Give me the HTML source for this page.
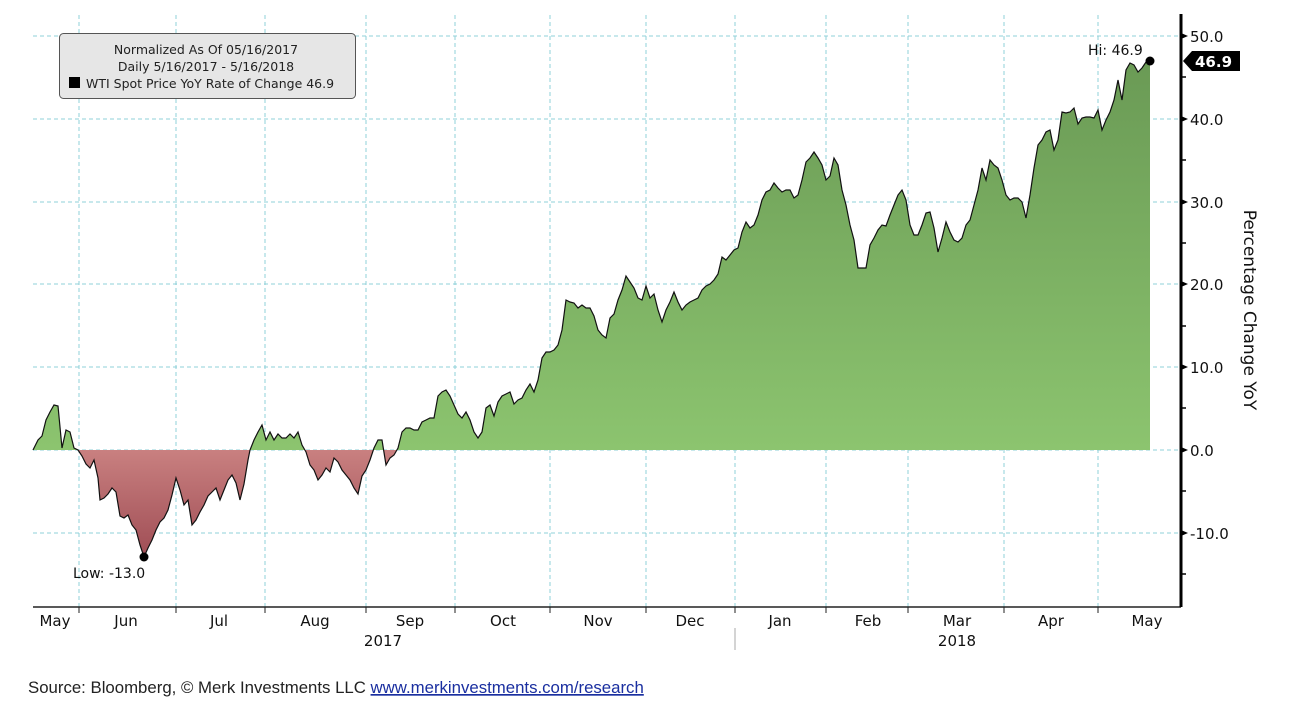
<!DOCTYPE html>
<html><head><meta charset="utf-8"><style>
body{margin:0;background:#fff;width:1290px;height:708px;overflow:hidden;font-family:"DejaVu Sans","Liberation Sans",sans-serif}
</style></head><body>
<svg width="1290" height="708" xmlns="http://www.w3.org/2000/svg" style="position:absolute;left:0;top:0">
<defs>
<linearGradient id="g" gradientUnits="userSpaceOnUse" x1="0" y1="60" x2="0" y2="450"><stop offset="0" stop-color="#6a9a55"/><stop offset="1" stop-color="#8cc46f"/></linearGradient>
<linearGradient id="r" gradientUnits="userSpaceOnUse" x1="0" y1="450" x2="0" y2="560"><stop offset="0" stop-color="#c98080"/><stop offset="1" stop-color="#9e4c54"/></linearGradient>
<clipPath id="up"><rect x="0" y="0" width="1290" height="450"/></clipPath>
<clipPath id="dn"><rect x="0" y="450" width="1290" height="200"/></clipPath>
<path id="p" d="M33,450 L38,440 42,436 46,420 50,412 54,405 58,406 62,448 66,430 70,432 74,448 78,450 82,456 86,464 90,468 94,460 98,478 100,500 104,498 108,494 112,488 116,492 120,516 124,518 128,515 132,525 136,530 140,545 144,557 148,548 152,540 156,530 160,522 164,518 168,510 172,495 176,478 180,490 184,505 188,500 192,525 196,520 200,512 204,505 208,496 212,492 216,488 220,500 224,490 228,480 232,475 236,483 240,500 244,484 248,460 250,450 254,440 258,432 262,425 266,440 270,432 274,440 278,434 282,438 286,438 290,434 294,438 298,432 302,445 306,452 310,465 314,470 318,480 322,475 326,468 330,472 334,458 338,462 342,470 346,475 350,480 354,488 358,494 362,476 366,470 370,460 374,448 378,440 382,440 386,465 390,458 394,455 398,448 402,432 406,428 410,428 414,430 418,430 422,422 426,420 430,418 434,418 438,396 442,392 446,390 450,396 454,405 458,414 462,418 466,412 470,420 474,432 478,438 482,432 486,408 490,405 494,416 498,402 502,396 506,394 510,392 514,404 518,400 522,398 526,390 530,384 534,392 538,380 542,358 546,352 550,352 554,350 558,345 562,330 566,300 570,302 574,303 578,308 582,305 586,308 590,308 594,316 598,330 602,335 606,338 610,318 614,314 618,300 622,290 626,276 630,282 634,288 638,298 642,300 646,286 650,298 654,294 658,310 662,322 666,310 670,302 674,292 678,302 682,310 686,305 690,302 694,300 698,298 702,290 706,286 710,284 714,280 718,274 722,257 726,260 730,255 734,250 738,248 742,232 746,222 750,228 754,225 758,215 762,200 766,192 770,190 774,183 778,188 782,192 786,190 790,190 794,198 798,195 802,180 806,162 810,158 814,152 818,158 822,165 826,180 830,176 834,158 838,165 842,190 846,205 850,225 854,240 858,268 862,268 866,268 870,245 874,238 878,230 882,225 886,226 890,215 894,205 898,195 902,190 906,200 910,225 914,235 918,235 922,225 926,213 930,212 934,228 938,252 942,238 946,222 950,232 954,240 958,242 962,238 966,225 970,220 974,205 978,190 982,168 986,180 990,160 994,165 998,168 1002,180 1006,195 1010,200 1014,198 1018,198 1022,202 1026,218 1030,195 1034,168 1038,145 1042,140 1046,132 1050,130 1054,150 1058,140 1062,112 1066,113 1070,112 1074,108 1078,124 1082,118 1086,117 1090,117 1094,118 1098,110 1102,130 1106,120 1110,112 1114,100 1118,80 1122,100 1126,70 1130,63 1134,65 1138,72 1142,68 1146,62 1150,61"/>
<path id="f" d="M33,450 L38,440 42,436 46,420 50,412 54,405 58,406 62,448 66,430 70,432 74,448 78,450 82,456 86,464 90,468 94,460 98,478 100,500 104,498 108,494 112,488 116,492 120,516 124,518 128,515 132,525 136,530 140,545 144,557 148,548 152,540 156,530 160,522 164,518 168,510 172,495 176,478 180,490 184,505 188,500 192,525 196,520 200,512 204,505 208,496 212,492 216,488 220,500 224,490 228,480 232,475 236,483 240,500 244,484 248,460 250,450 254,440 258,432 262,425 266,440 270,432 274,440 278,434 282,438 286,438 290,434 294,438 298,432 302,445 306,452 310,465 314,470 318,480 322,475 326,468 330,472 334,458 338,462 342,470 346,475 350,480 354,488 358,494 362,476 366,470 370,460 374,448 378,440 382,440 386,465 390,458 394,455 398,448 402,432 406,428 410,428 414,430 418,430 422,422 426,420 430,418 434,418 438,396 442,392 446,390 450,396 454,405 458,414 462,418 466,412 470,420 474,432 478,438 482,432 486,408 490,405 494,416 498,402 502,396 506,394 510,392 514,404 518,400 522,398 526,390 530,384 534,392 538,380 542,358 546,352 550,352 554,350 558,345 562,330 566,300 570,302 574,303 578,308 582,305 586,308 590,308 594,316 598,330 602,335 606,338 610,318 614,314 618,300 622,290 626,276 630,282 634,288 638,298 642,300 646,286 650,298 654,294 658,310 662,322 666,310 670,302 674,292 678,302 682,310 686,305 690,302 694,300 698,298 702,290 706,286 710,284 714,280 718,274 722,257 726,260 730,255 734,250 738,248 742,232 746,222 750,228 754,225 758,215 762,200 766,192 770,190 774,183 778,188 782,192 786,190 790,190 794,198 798,195 802,180 806,162 810,158 814,152 818,158 822,165 826,180 830,176 834,158 838,165 842,190 846,205 850,225 854,240 858,268 862,268 866,268 870,245 874,238 878,230 882,225 886,226 890,215 894,205 898,195 902,190 906,200 910,225 914,235 918,235 922,225 926,213 930,212 934,228 938,252 942,238 946,222 950,232 954,240 958,242 962,238 966,225 970,220 974,205 978,190 982,168 986,180 990,160 994,165 998,168 1002,180 1006,195 1010,200 1014,198 1018,198 1022,202 1026,218 1030,195 1034,168 1038,145 1042,140 1046,132 1050,130 1054,150 1058,140 1062,112 1066,113 1070,112 1074,108 1078,124 1082,118 1086,117 1090,117 1094,118 1098,110 1102,130 1106,120 1110,112 1114,100 1118,80 1122,100 1126,70 1130,63 1134,65 1138,72 1142,68 1146,62 1150,61 L1150,450 Z"/>
</defs>
<g stroke="#8fd0d8" stroke-width="1" stroke-dasharray="4,3">
<line x1="33" y1="36" x2="1181" y2="36"/><line x1="33" y1="119" x2="1181" y2="119"/><line x1="33" y1="202" x2="1181" y2="202"/><line x1="33" y1="284" x2="1181" y2="284"/><line x1="33" y1="367" x2="1181" y2="367"/><line x1="33" y1="450" x2="1181" y2="450"/><line x1="33" y1="533" x2="1181" y2="533"/>
<line x1="79" y1="15" x2="79" y2="607"/><line x1="176" y1="15" x2="176" y2="607"/><line x1="265" y1="15" x2="265" y2="607"/><line x1="366" y1="15" x2="366" y2="607"/><line x1="455" y1="15" x2="455" y2="607"/><line x1="550" y1="15" x2="550" y2="607"/><line x1="646" y1="15" x2="646" y2="607"/><line x1="735" y1="15" x2="735" y2="607"/><line x1="826" y1="15" x2="826" y2="607"/><line x1="908" y1="15" x2="908" y2="607"/><line x1="1004" y1="15" x2="1004" y2="607"/><line x1="1098" y1="15" x2="1098" y2="607"/>
</g>
<g clip-path="url(#up)"><use href="#f" fill="url(#g)"/></g>
<g clip-path="url(#dn)"><use href="#f" fill="url(#r)"/></g>
<use href="#p" fill="none" stroke="#111" stroke-width="1.2"/>
<line x1="33" y1="607" x2="1181" y2="607" stroke="#222" stroke-width="1.5"/>
<g stroke="#222" stroke-width="1"><line x1="79" y1="607" x2="79" y2="613"/><line x1="176" y1="607" x2="176" y2="613"/><line x1="265" y1="607" x2="265" y2="613"/><line x1="366" y1="607" x2="366" y2="613"/><line x1="455" y1="607" x2="455" y2="613"/><line x1="550" y1="607" x2="550" y2="613"/><line x1="646" y1="607" x2="646" y2="613"/><line x1="735" y1="607" x2="735" y2="613"/><line x1="826" y1="607" x2="826" y2="613"/><line x1="908" y1="607" x2="908" y2="613"/><line x1="1004" y1="607" x2="1004" y2="613"/><line x1="1098" y1="607" x2="1098" y2="613"/><line x1="735" y1="628" x2="735" y2="650" stroke="#aaa"/></g>
<line x1="1181" y1="14" x2="1181" y2="607" stroke="#000" stroke-width="3"/>
<g stroke="#000" stroke-width="1.5"><line x1="1181" y1="77" x2="1186" y2="77"/><line x1="1181" y1="160" x2="1186" y2="160"/><line x1="1181" y1="243" x2="1186" y2="243"/><line x1="1181" y1="326" x2="1186" y2="326"/><line x1="1181" y1="408" x2="1186" y2="408"/><line x1="1181" y1="491" x2="1186" y2="491"/><line x1="1181" y1="574" x2="1186" y2="574"/></g>
<g fill="#000"><path d="M1181,33 l7,3 l-7,3z"/><path d="M1181,116 l7,3 l-7,3z"/><path d="M1181,199 l7,3 l-7,3z"/><path d="M1181,281 l7,3 l-7,3z"/><path d="M1181,364 l7,3 l-7,3z"/><path d="M1181,447 l7,3 l-7,3z"/><path d="M1181,530 l7,3 l-7,3z"/></g>
<g font-size="15" fill="#111">
<text x="1190" y="42">50.0</text><text x="1190" y="125">40.0</text><text x="1190" y="208">30.0</text><text x="1190" y="290">20.0</text><text x="1190" y="373">10.0</text><text x="1190" y="456">0.0</text><text x="1190" y="539">-10.0</text>
</g>
<path d="M1183,61 l9,-10 h48 v20 h-48z" fill="#000"/>
<text x="1195" y="67" font-size="15" font-weight="bold" fill="#fff">46.9</text>
<text transform="translate(1244,310) rotate(90)" text-anchor="middle" font-size="17" fill="#111">Percentage Change YoY</text>
<circle cx="1150" cy="61" r="4.5" fill="#000"/><circle cx="144" cy="557" r="4.5" fill="#000"/>
<text x="1088" y="55" font-size="14" fill="#111">Hi: 46.9</text>
<text x="73" y="578" font-size="14" fill="#111">Low: -13.0</text>
<g font-size="15" fill="#111" text-anchor="middle">
<text x="55" y="626">May</text><text x="126" y="626">Jun</text><text x="219" y="626">Jul</text><text x="315" y="626">Aug</text><text x="410" y="626">Sep</text><text x="503" y="626">Oct</text><text x="598" y="626">Nov</text><text x="690" y="626">Dec</text><text x="780" y="626">Jan</text><text x="868" y="626">Feb</text><text x="957" y="626">Mar</text><text x="1051" y="626">Apr</text><text x="1147" y="626">May</text>
<text x="383" y="646">2017</text><text x="957" y="646">2018</text>
</g>
<rect x="59.5" y="33.5" width="296" height="65" rx="4" fill="#e6e6e6" stroke="#555"/>
<g font-size="12.5" fill="#222" text-anchor="middle"><text x="206" y="54">Normalized As Of 05/16/2017</text><text x="206" y="71">Daily 5/16/2017 - 5/16/2018</text></g>
<rect x="69" y="77" width="11" height="11" fill="#000"/>
<text x="86" y="88" font-size="12.5" fill="#222">WTI Spot Price YoY Rate of Change  46.9</text>
<text x="28" y="693" font-size="16.8" fill="#222" font-family="Liberation Sans, sans-serif">Source: Bloomberg, © Merk Investments LLC <tspan fill="#1a2fa0" text-decoration="underline">www.merkinvestments.com/research</tspan></text>
</svg>
</body></html>
